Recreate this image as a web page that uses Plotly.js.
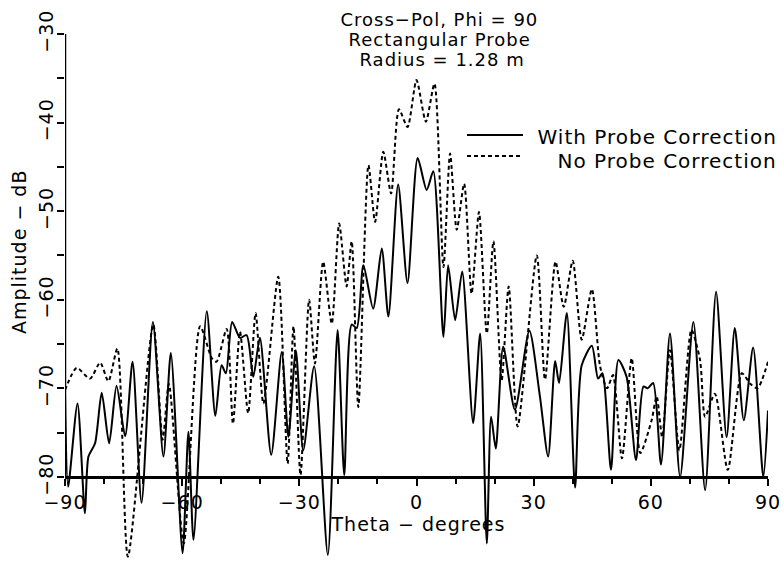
<!DOCTYPE html>
<html>
<head>
<meta charset="utf-8">
<script src="https://cdn.plot.ly/plotly-3.0.1.min.js"></script>
<style>
html,body{margin:0;padding:0;background:#fff;}
.main-svg text{letter-spacing:1px;}
</style>
</head>
<body>
<div id="chart" style="width:784px;height:562px;"></div>
<script>
// ---- data ----
const withX = [-90,-89.2,-86.8,-84.9,-84.0,-82.3,-80.6,-78.7,-76.8,-74.6,-72.7,-70.4,-67.5,-64.8,-62.9,-59.9,-58.4,-57.1,-53.7,-51.5,-49.9,-48.8,-47.2,-45.2,-43.5,-41.8,-40.1,-37.2,-34.5,-32.8,-30.9,-29.0,-26.2,-22.7,-20.2,-18.5,-16.6,-15.3,-13.6,-11.1,-8.9,-7.2,-4.7,-2.3,0.3,2.6,4.3,6.9,8.1,9.9,11.7,14.5,16.3,18.0,19.1,20.3,22.2,25.2,28.9,31.6,33.7,35.5,36.5,38.5,40.6,42.3,44.9,46.5,47.6,49.8,51.7,53.8,56.2,58.1,59.2,60.6,62.6,64.9,67.5,70.9,73.9,76.7,79.4,81.5,83.8,86.2,88.8,90];
const withY = [-70.5,-81.1,-71.7,-84.1,-77.7,-76.2,-70.5,-76.2,-69.7,-75.4,-67.0,-82.9,-62.5,-77.7,-66.0,-88.6,-74.9,-87.1,-61.3,-73.1,-67.4,-68.3,-62.5,-64.3,-64.0,-68.7,-64.3,-77.5,-65.9,-75.5,-65.7,-77.0,-67.5,-88.8,-63.4,-79.8,-62.8,-63.2,-56.1,-61.0,-54.2,-61.9,-47.0,-58.1,-44.0,-47.6,-45.5,-64.2,-56.1,-62.3,-56.8,-73.9,-63.8,-87.5,-73.2,-76.8,-65.3,-72.4,-63.5,-70.9,-77.7,-66.9,-69.4,-61.5,-81.2,-67.4,-65.2,-68.9,-68.3,-79.2,-66.8,-68.7,-78.1,-69.8,-70.0,-69.4,-78.6,-63.8,-80.0,-62.5,-81.5,-59.1,-75.5,-63.2,-73.6,-65.4,-80.0,-72.5];

const noX = [-90,-87.0,-83.6,-81.0,-78.9,-76.6,-73.9,-67.4,-65.0,-63.4,-59.6,-55.4,-52.4,-51.2,-48.6,-47.0,-45.2,-43.1,-41.2,-39.2,-35.4,-33.0,-31.5,-29.7,-27.5,-26.0,-23.9,-21.7,-19.8,-17.9,-16.6,-14.9,-12.3,-10.6,-8.5,-6.5,-4.5,-2.3,0.0,2.4,4.6,6.9,8.6,10.3,12.2,14.1,16.0,18.0,19.7,21.8,23.6,25.9,30.8,32.9,35.6,37.7,40.0,42.3,44.9,47.0,48.8,50.3,52.6,55.1,57.3,60.2,61.5,62.9,64.9,67.3,70.4,72.6,73.9,76.4,79.7,83.3,85.5,87.3,90];
const noY = [-70.2,-67.7,-68.9,-67.1,-69.2,-65.5,-89.0,-62.8,-75.8,-69.5,-87.5,-63.0,-66.6,-67.0,-63.3,-74.0,-63.6,-72.8,-61.5,-71.7,-57.4,-78.5,-63.0,-79.8,-60.0,-67.2,-55.7,-62.7,-51.4,-58.5,-53.4,-72.1,-44.8,-51.2,-43.3,-48.0,-38.5,-40.5,-35.2,-39.9,-35.6,-56.3,-43.5,-52.1,-46.9,-59.3,-50.1,-63.8,-53.4,-69.1,-58.5,-74.3,-55.0,-69.0,-55.7,-60.8,-55.6,-64.5,-58.8,-67.5,-70.0,-68.5,-77.9,-66.6,-77.3,-73.6,-70.9,-75.5,-65.7,-77.0,-63.4,-66.8,-73.2,-70.6,-79.2,-68.3,-69.5,-70.0,-67.0];

const seriesNames = ['With Probe Correction', 'No Probe Correction'];
const xTickVals = [-90,-60,-30,0,30,60,90];
const yTickVals = [-80,-75,-70,-65,-60,-55,-50,-45,-40,-35,-30];
const yTickText = ['\u221280','','\u221270','','\u221260','','\u221250','','\u221240','','\u221230'];
const xTickText = ['\u221290','\u221260','\u221230','0','30','60','90'];

// ---- layout geometry ----
const W = 784, H = 562;
const M = {l:65, r:16, t:34, b:0};
const yRange = [-89.6, -30];
const xRange = [-90, 90];
const yBase = -80;
const plotW = W - M.l - M.r, plotH = H - M.t - M.b;
const px2x = p => (p - M.l) / plotW;
const py2y = p => (H - M.b - p) / plotH;

const FONT = 'DejaVu Sans, sans-serif';

const traces = [
  {x: withX, y: withY, name: seriesNames[0], type: 'scatter', mode: 'lines',
   line: {color: '#000', width: 2, shape: 'spline', smoothing: 0.7}, showlegend: false},
  {x: noX, y: noY, name: seriesNames[1], type: 'scatter', mode: 'lines',
   line: {color: '#000', width: 2, dash: '4px,3px', shape: 'spline', smoothing: 0.7}, showlegend: false}
];

const layout = {
  width: W, height: H,
  margin: M,
  paper_bgcolor: '#fff', plot_bgcolor: '#fff',
  font: {family: FONT, size: 18, color: '#000'},
  showlegend: false,
  xaxis: {
    range: xRange, anchor: 'free',
    position: (yBase - yRange[0]) / (yRange[1] - yRange[0]),
    showgrid: false, zeroline: false,
    showline: true, linecolor: '#000', linewidth: 3,
    ticks: 'outside', ticklen: 7, tickwidth: 2, tickcolor: '#000',
    tickvals: xTickVals, ticktext: xTickText,
    minor: {dtick: 10, tick0: 0, ticks: 'outside', ticklen: 5, tickwidth: 2, tickcolor: '#000', showgrid: false},
    tickfont: {family: FONT, size: 19}
  },
  yaxis: {
    range: yRange, showgrid: false, zeroline: false, showline: false,
    ticks: 'outside', ticklen: 7, tickwidth: 2, tickcolor: '#000',
    tickvals: yTickVals, ticktext: yTickText, tickangle: -90,
    ticklabelstandoff: -4,
    tickfont: {family: FONT, size: 19}
  },
  shapes: [
    {type: 'line', xref: 'x', yref: 'y', x0: xRange[0], x1: xRange[0], y0: yBase, y1: yRange[1],
     line: {color: '#000', width: 2.5}},
    {type: 'line', xref: 'paper', yref: 'paper', x0: px2x(467), x1: px2x(523), y0: py2y(135), y1: py2y(135),
     line: {color: '#000', width: 2}},
    {type: 'line', xref: 'paper', yref: 'paper', x0: px2x(467), x1: px2x(523), y0: py2y(156), y1: py2y(156),
     line: {color: '#000', width: 2, dash: '4px,3px'}}
  ],
  annotations: [
    {text: 'Cross\u2212Pol, Phi = 90', xref: 'paper', yref: 'paper', x: px2x(440), y: py2y(20), xanchor: 'center', yanchor: 'middle', showarrow: false, font: {size: 18}},
    {text: 'Rectangular Probe', xref: 'paper', yref: 'paper', x: px2x(439), y: py2y(40), xanchor: 'center', yanchor: 'middle', showarrow: false, font: {size: 18}},
    {text: 'Radius = 1.28 m', xref: 'paper', yref: 'paper', x: px2x(442), y: py2y(60), xanchor: 'center', yanchor: 'middle', showarrow: false, font: {size: 18}},
    {text: seriesNames[0], xref: 'paper', yref: 'paper', x: px2x(657), y: py2y(137), xanchor: 'center', yanchor: 'middle', showarrow: false, font: {size: 20}},
    {text: seriesNames[1], xref: 'paper', yref: 'paper', x: px2x(667), y: py2y(161), xanchor: 'center', yanchor: 'middle', showarrow: false, font: {size: 20}},
    {text: 'Theta \u2212 degrees', xref: 'paper', yref: 'paper', x: px2x(418), y: py2y(524), xanchor: 'center', yanchor: 'middle', showarrow: false, font: {size: 19}},
    {text: 'Amplitude \u2212 dB', xref: 'paper', yref: 'paper', x: px2x(19), y: py2y(252), xanchor: 'center', yanchor: 'middle', textangle: -90, showarrow: false, font: {size: 19}}
  ]
};

Plotly.newPlot('chart', traces, layout, {displayModeBar: false, staticPlot: true});
</script>
</body>
</html>
